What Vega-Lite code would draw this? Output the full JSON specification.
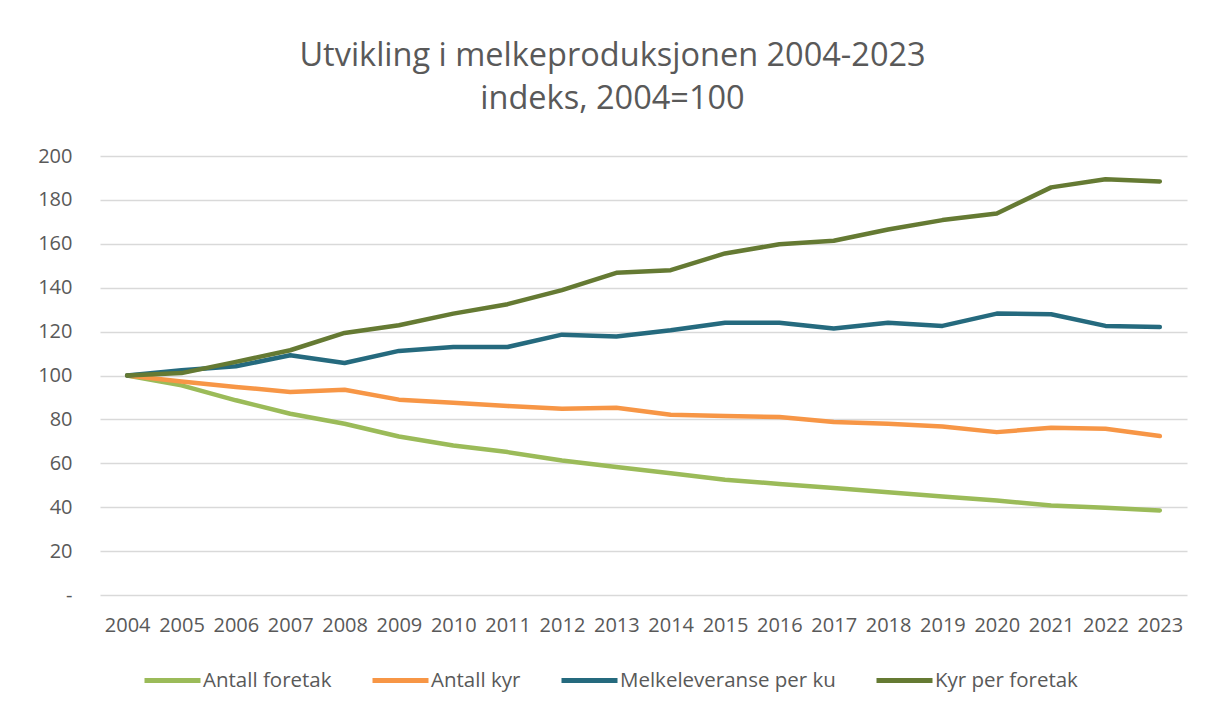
{
  "$schema": "https://vega.github.io/schema/vega-lite/v6.json",
  "width": 1087,
  "height": 439,
  "autosize": {"type": "none"},
  "padding": {"left": 100, "top": 156, "right": 18, "bottom": 114},
  "background": "white",
  "title": {
    "text": ["Utvikling i melkeproduksjonen 2004-2023", "indeks, 2004=100"],
    "font": "Open Sans",
    "fontSize": 32.5,
    "fontWeight": "normal",
    "color": "#595959",
    "lineHeight": 43,
    "anchor": "middle",
    "frame": "group",
    "baseline": "bottom",
    "dx": -31,
    "offset": -2
  },
  "config": {
    "view": {"stroke": null},
    "font": "Open Sans"
  },
  "data": {
    "values": [
      {"year": "2004", "series": "Antall foretak", "value": 100},
      {"year": "2005", "series": "Antall foretak", "value": 95.5},
      {"year": "2006", "series": "Antall foretak", "value": 88.7},
      {"year": "2007", "series": "Antall foretak", "value": 82.6},
      {"year": "2008", "series": "Antall foretak", "value": 78.0},
      {"year": "2009", "series": "Antall foretak", "value": 72.2},
      {"year": "2010", "series": "Antall foretak", "value": 68.1},
      {"year": "2011", "series": "Antall foretak", "value": 65.1},
      {"year": "2012", "series": "Antall foretak", "value": 61.3},
      {"year": "2013", "series": "Antall foretak", "value": 58.3},
      {"year": "2014", "series": "Antall foretak", "value": 55.5},
      {"year": "2015", "series": "Antall foretak", "value": 52.5},
      {"year": "2016", "series": "Antall foretak", "value": 50.6},
      {"year": "2017", "series": "Antall foretak", "value": 48.8},
      {"year": "2018", "series": "Antall foretak", "value": 46.8},
      {"year": "2019", "series": "Antall foretak", "value": 44.9},
      {"year": "2020", "series": "Antall foretak", "value": 43.0},
      {"year": "2021", "series": "Antall foretak", "value": 40.8},
      {"year": "2022", "series": "Antall foretak", "value": 39.7},
      {"year": "2023", "series": "Antall foretak", "value": 38.5},
      {"year": "2004", "series": "Antall kyr", "value": 100},
      {"year": "2005", "series": "Antall kyr", "value": 97.3},
      {"year": "2006", "series": "Antall kyr", "value": 94.8},
      {"year": "2007", "series": "Antall kyr", "value": 92.5},
      {"year": "2008", "series": "Antall kyr", "value": 93.5},
      {"year": "2009", "series": "Antall kyr", "value": 89.0},
      {"year": "2010", "series": "Antall kyr", "value": 87.6},
      {"year": "2011", "series": "Antall kyr", "value": 86.1},
      {"year": "2012", "series": "Antall kyr", "value": 84.9},
      {"year": "2013", "series": "Antall kyr", "value": 85.3},
      {"year": "2014", "series": "Antall kyr", "value": 82.1},
      {"year": "2015", "series": "Antall kyr", "value": 81.5},
      {"year": "2016", "series": "Antall kyr", "value": 81.1},
      {"year": "2017", "series": "Antall kyr", "value": 78.8},
      {"year": "2018", "series": "Antall kyr", "value": 78.0},
      {"year": "2019", "series": "Antall kyr", "value": 76.8},
      {"year": "2020", "series": "Antall kyr", "value": 74.2},
      {"year": "2021", "series": "Antall kyr", "value": 76.2},
      {"year": "2022", "series": "Antall kyr", "value": 75.7},
      {"year": "2023", "series": "Antall kyr", "value": 72.4},
      {"year": "2004", "series": "Melkeleveranse per ku", "value": 100},
      {"year": "2005", "series": "Melkeleveranse per ku", "value": 102.4},
      {"year": "2006", "series": "Melkeleveranse per ku", "value": 104.2},
      {"year": "2007", "series": "Melkeleveranse per ku", "value": 109.2},
      {"year": "2008", "series": "Melkeleveranse per ku", "value": 105.7},
      {"year": "2009", "series": "Melkeleveranse per ku", "value": 111.2},
      {"year": "2010", "series": "Melkeleveranse per ku", "value": 113.0},
      {"year": "2011", "series": "Melkeleveranse per ku", "value": 113.0},
      {"year": "2012", "series": "Melkeleveranse per ku", "value": 118.6},
      {"year": "2013", "series": "Melkeleveranse per ku", "value": 117.8},
      {"year": "2014", "series": "Melkeleveranse per ku", "value": 120.6},
      {"year": "2015", "series": "Melkeleveranse per ku", "value": 124.0},
      {"year": "2016", "series": "Melkeleveranse per ku", "value": 124.0},
      {"year": "2017", "series": "Melkeleveranse per ku", "value": 121.4},
      {"year": "2018", "series": "Melkeleveranse per ku", "value": 124.0},
      {"year": "2019", "series": "Melkeleveranse per ku", "value": 122.6},
      {"year": "2020", "series": "Melkeleveranse per ku", "value": 128.2},
      {"year": "2021", "series": "Melkeleveranse per ku", "value": 127.9},
      {"year": "2022", "series": "Melkeleveranse per ku", "value": 122.6},
      {"year": "2023", "series": "Melkeleveranse per ku", "value": 122.1},
      {"year": "2004", "series": "Kyr per foretak", "value": 100},
      {"year": "2005", "series": "Kyr per foretak", "value": 101.1},
      {"year": "2006", "series": "Kyr per foretak", "value": 106.2},
      {"year": "2007", "series": "Kyr per foretak", "value": 111.5},
      {"year": "2008", "series": "Kyr per foretak", "value": 119.4},
      {"year": "2009", "series": "Kyr per foretak", "value": 122.9},
      {"year": "2010", "series": "Kyr per foretak", "value": 128.2},
      {"year": "2011", "series": "Kyr per foretak", "value": 132.5},
      {"year": "2012", "series": "Kyr per foretak", "value": 138.9},
      {"year": "2013", "series": "Kyr per foretak", "value": 146.8},
      {"year": "2014", "series": "Kyr per foretak", "value": 148.0},
      {"year": "2015", "series": "Kyr per foretak", "value": 155.6},
      {"year": "2016", "series": "Kyr per foretak", "value": 159.8},
      {"year": "2017", "series": "Kyr per foretak", "value": 161.4},
      {"year": "2018", "series": "Kyr per foretak", "value": 166.5},
      {"year": "2019", "series": "Kyr per foretak", "value": 170.8},
      {"year": "2020", "series": "Kyr per foretak", "value": 173.8},
      {"year": "2021", "series": "Kyr per foretak", "value": 185.7},
      {"year": "2022", "series": "Kyr per foretak", "value": 189.4},
      {"year": "2023", "series": "Kyr per foretak", "value": 188.4}
    ]
  },
  "mark": {"type": "line", "strokeWidth": 4.5, "strokeCap": "round", "strokeJoin": "round"},
  "encoding": {
    "x": {
      "field": "year",
      "type": "ordinal",
      "scale": {"type": "point", "padding": 0.5},
      "axis": {
        "title": null,
        "labelAngle": 0,
        "labelFont": "Open Sans",
        "labelFontSize": 20,
        "labelColor": "#595959",
        "domain": false,
        "ticks": false,
        "grid": false,
        "labelPadding": 20
      }
    },
    "y": {
      "field": "value",
      "type": "quantitative",
      "scale": {"domain": [0, 200], "nice": false, "zero": true},
      "axis": {
        "title": null,
        "values": [0, 20, 40, 60, 80, 100, 120, 140, 160, 180, 200],
        "labelExpr": "datum.value == 0 ? '-' : datum.label",
        "labelFont": "Open Sans",
        "labelFontSize": 20,
        "labelColor": "#595959",
        "domain": false,
        "ticks": false,
        "labelPadding": 28,
        "gridColor": "#d9d9d9",
        "gridWidth": 1.5
      }
    },
    "color": {
      "field": "series",
      "type": "nominal",
      "sort": ["Antall foretak", "Antall kyr", "Melkeleveranse per ku", "Kyr per foretak"],
      "scale": {
        "domain": ["Antall foretak", "Antall kyr", "Melkeleveranse per ku", "Kyr per foretak"],
        "range": ["#9BBB59", "#F79646", "#256A7E", "#657A33"]
      },
      "legend": {
        "title": null,
        "orient": "none",
        "direction": "horizontal",
        "legendX": 42,
        "legendY": 494,
        "symbolType": "stroke",
        "symbolSize": 3136,
        "symbolStrokeWidth": 5,
        "labelFont": "Open Sans",
        "labelFontSize": 20.5,
        "labelColor": "#595959",
        "labelOffset": 0,
        "columnPadding": 30,
        "labelLimit": 400
      }
    }
  }
}
